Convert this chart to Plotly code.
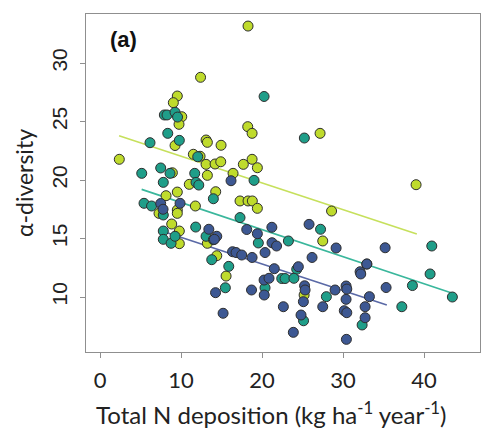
import plotly.graph_objects as go

# ---- data ----
yellow_x = [2.38, 9.54, 9.05, 10.09, 9.75, 9.26, 13.09, 13.25, 14.94, 18.23, 18.77, 11.52, 12.35,
            13.09, 14.20, 14.90, 13.25, 11.02, 16.42, 17.69, 18.77, 19.42, 8.93, 9.54, 14.28, 8.15,
            17.28, 18.27, 18.80, 19.42, 12.41, 18.27, 27.16, 28.58, 27.49, 39.01, 7.28, 9.54, 9.54,
            11.77, 8.85, 9.79, 9.79, 13.25, 14.41, 15.56, 25.19]
yellow_y = [21.77, 27.18, 26.61, 25.41, 24.76, 22.95, 23.42, 23.22, 22.97, 24.56, 23.99, 22.20, 22.03,
            21.34, 21.37, 21.56, 20.40, 19.63, 20.57, 21.34, 21.77, 21.05, 20.62, 18.97, 19.00, 18.66,
            18.21, 18.21, 18.21, 17.58, 28.78, 33.16, 23.99, 17.35, 14.79, 19.60, 17.15, 17.44, 17.15,
            17.78, 16.24, 15.64, 14.56, 14.59, 13.53, 11.79, 10.17]

teal_x = [7.94, 8.27, 9.26, 9.57, 8.36, 9.79, 6.17, 20.25, 12.06, 11.69, 11.85, 12.19, 19.01, 5.15,
          7.49, 8.64, 7.81, 13.99, 25.22, 5.43, 6.36, 7.81, 17.28, 19.54, 11.81, 7.81, 7.81, 8.77,
          9.26, 13.09, 13.99, 13.79, 15.89, 15.47, 20.37, 23.25, 27.22, 24.28, 22.43, 22.84, 23.93,
          25.12, 27.94, 32.93, 32.35, 37.25, 38.56, 40.74, 40.95, 43.49]
teal_y = [25.56, 25.56, 25.79, 25.38, 23.99, 23.39, 23.19, 27.14, 21.99, 20.57, 19.80, 19.57, 19.97, 20.57,
          21.03, 20.57, 19.80, 18.40, 23.59, 18.01, 17.78, 17.01, 16.79, 14.62, 15.98, 15.64, 14.93, 14.59,
          15.19, 15.19, 14.90, 13.19, 12.62, 10.79, 10.79, 14.79, 15.79, 12.37, 11.58, 11.58, 11.60,
          7.97, 10.03, 12.82, 7.61, 9.17, 10.98, 11.97, 14.36, 10.00]

blue_x = [16.17, 7.49, 7.78, 9.88, 13.43, 14.41, 14.11, 14.26, 15.19, 18.11, 19.42, 20.37, 16.36, 16.79,
          17.49, 18.77, 18.70, 20.25, 20.86, 20.27, 21.21, 21.23, 21.79, 21.51, 22.63, 23.86, 25.80,
          29.14, 26.17, 24.48, 25.25, 25.31, 25.10, 24.81, 27.49, 29.01, 30.37, 30.46, 30.37, 30.15,
          30.46, 30.41, 32.10, 32.18, 32.93, 33.25, 32.72, 32.72, 35.19, 35.31]
blue_y = [19.94, 17.99, 17.50, 18.01, 15.79, 15.19, 14.93, 10.37, 8.61, 15.77, 15.41, 13.80, 13.87, 13.80,
          13.59, 13.38, 10.60, 11.45, 11.60, 10.17, 15.96, 14.64, 14.36, 12.42, 9.17, 6.98, 16.21,
          14.19, 13.38, 12.59, 10.96, 10.60, 9.60, 8.46, 9.17, 10.60, 10.94, 10.68, 9.80, 8.83,
          8.66, 6.38, 12.16, 11.97, 12.82, 10.03, 9.17, 8.23, 14.21, 10.81]

# regression line endpoints (x start, x end, y start, y end)
yellow_line_x = [2.35, 39.1]
yellow_line_y = [23.79, 15.38]
teal_line_x = [5.14, 43.5]
teal_line_y = [19.2, 10.32]
blue_line_x = [8.0, 35.4]
blue_line_y = [15.55, 9.32]

x_ticks = [0, 10, 20, 30, 40]
y_ticks = [10, 15, 20, 25, 30]

# ---- styling ----
YEL, TEAL, BLUE = "#bfdb2c", "#1f9e89", "#3d5893"
YEL_L, TEAL_L, BLUE_L = "#c6e05c", "#3ab79c", "#5a69a6"

fig = go.Figure()
for lx, ly, c in [(yellow_line_x, yellow_line_y, YEL_L),
                  (teal_line_x, teal_line_y, TEAL_L),
                  (blue_line_x, blue_line_y, BLUE_L)]:
    fig.add_trace(go.Scatter(x=lx, y=ly, mode="lines", line=dict(color=c, width=1.6),
                             hoverinfo="skip", showlegend=False))

for xs, ys, c in [(yellow_x, yellow_y, YEL), (teal_x, teal_y, TEAL), (blue_x, blue_y, BLUE)]:
    fig.add_trace(go.Scatter(x=xs, y=ys, mode="markers",
                             marker=dict(size=10, color=c, line=dict(color="#2e2e2e", width=1)),
                             showlegend=False))

axis_common = dict(showline=True, mirror=True, linecolor="#8f8f8f", linewidth=1.3,
                   ticks="outside", ticklen=5, tickcolor="#8f8f8f", tickwidth=1.2,
                   showgrid=False, zeroline=False)

# the page body adds an 8px offset, so margins compensate for it
fig.update_layout(
    width=500, height=440,
    margin=dict(l=78, r=28, t=6, b=96, autoexpand=False),
    paper_bgcolor="white", plot_bgcolor="white",
    xaxis=dict(range=[-1.73, 46.9], tickvals=x_ticks, ticktext=[str(v) for v in x_ticks],
               tickfont=dict(family="Lato", size=22, color="#222"),
               ticklabelstandoff=3,
               **axis_common),
    yaxis=dict(range=[5.3, 34.19], tickvals=y_ticks, ticktext=[str(v) for v in y_ticks],
               tickangle=-90,
               tickfont=dict(family="Liberation Sans", size=21, color="#222"),
               ticklabelstandoff=4,
               title=dict(text="α-diversity",
                          font=dict(family="Lato", size=23, color="#222"), standoff=8),
               **axis_common),
    annotations=[
        dict(text="<b>(a)</b>", xref="paper", yref="paper", x=0.055, y=0.926,
             xanchor="left", yanchor="middle", showarrow=False,
             font=dict(family="Liberation Sans", size=22, color="#111")),
        dict(text="Total N deposition (kg ha<sup>-1</sup> year<sup>-1</sup>)",
             xref="paper", yref="paper", x=0.472, y=-0.18, xanchor="center", yanchor="middle",
             showarrow=False, font=dict(family="Lato", size=24, color="#222")),
    ],
)

fig.write_html("out.html")
